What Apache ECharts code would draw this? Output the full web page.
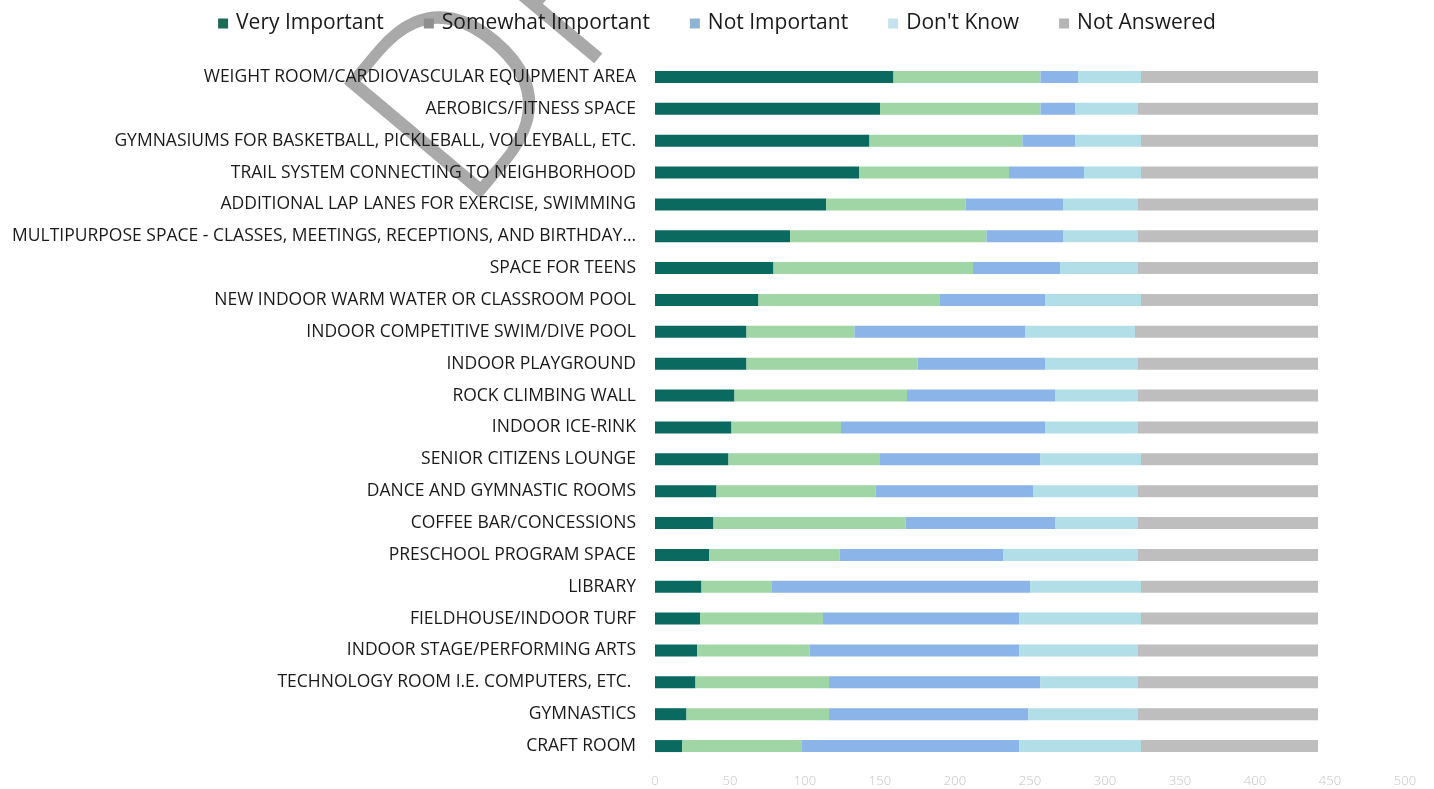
<!DOCTYPE html>
<html>
<head>
<meta charset="utf-8">
<title>Facility priorities</title>
<script src="https://cdn.jsdelivr.net/npm/echarts@6/dist/echarts.min.js"></script>
<style>
  html, body { margin: 0; padding: 0; background: #fff; }
  #chart { width: 1434px; height: 789px; }
</style>
</head>
<body>
<div id="chart"></div>
<script>
// categories, top to bottom
const categories = [
  'WEIGHT ROOM/CARDIOVASCULAR EQUIPMENT AREA',
  'AEROBICS/FITNESS SPACE',
  'GYMNASIUMS FOR BASKETBALL, PICKLEBALL, VOLLEYBALL, ETC.',
  'TRAIL SYSTEM CONNECTING TO NEIGHBORHOOD',
  'ADDITIONAL LAP LANES FOR EXERCISE, SWIMMING',
  'MULTIPURPOSE SPACE - CLASSES, MEETINGS, RECEPTIONS, AND BIRTHDAY…',
  'SPACE FOR TEENS',
  'NEW INDOOR WARM WATER OR CLASSROOM POOL',
  'INDOOR COMPETITIVE SWIM/DIVE POOL',
  'INDOOR PLAYGROUND',
  'ROCK CLIMBING WALL',
  'INDOOR ICE-RINK',
  'SENIOR CITIZENS LOUNGE',
  'DANCE AND GYMNASTIC ROOMS',
  'COFFEE BAR/CONCESSIONS',
  'PRESCHOOL PROGRAM SPACE',
  'LIBRARY',
  'FIELDHOUSE/INDOOR TURF',
  'INDOOR STAGE/PERFORMING ARTS',
  'TECHNOLOGY ROOM I.E. COMPUTERS, ETC. ',
  'GYMNASTICS',
  'CRAFT ROOM'
]

const veryImportant     = [159, 150, 143, 136, 114, 90, 79, 69, 61, 61, 53, 51, 49, 41, 39, 36, 31, 30, 28, 27, 21, 18]
const somewhatImportant = [98, 107, 102, 100, 93, 131, 133, 121, 72, 114, 115, 73, 101, 106, 128, 87, 47, 82, 75, 89, 95, 80]
const notImportant      = [25, 23, 35, 50, 65, 51, 58, 70, 114, 85, 99, 136, 107, 105, 100, 109, 172, 131, 140, 141, 133, 145]
const dontKnow          = [42, 42, 44, 38, 50, 50, 52, 64, 73, 62, 55, 62, 67, 70, 55, 90, 74, 81, 79, 65, 73, 81]
const notAnswered       = [118, 120, 118, 118, 120, 120, 120, 118, 122, 120, 120, 120, 118, 120, 120, 120, 118, 118, 120, 120, 120, 118]

const xTicks = { min: 0, max: 500, step: 50 }

const seriesNames = ['Very Important', 'Somewhat Important', 'Not Important', "Don't Know", 'Not Answered']
const seriesData = [veryImportant, somewhatImportant, notImportant, dontKnow, notAnswered]
const barColors = ['#0a6a60', '#a0d5a5', '#8bb4e8', '#b2dfe7', '#bebebe']
// legend swatches in the original do not match the bars
const legendColors = ['#1b6b57', '#8e8e8e', '#8fb4d3', '#c4e3ef', '#b5b5b5']

const FONT = '"Open Sans", "Noto Sans", sans-serif'

const chart = echarts.init(document.getElementById('chart'))

const option = {
  animation: false,
  backgroundColor: '#fff',
  legend: {
    top: 8,
    left: 'center',
    icon: 'rect',
    itemWidth: 10,
    itemHeight: 10,
    itemGap: 40,
    textStyle: { fontFamily: FONT, fontSize: 21, color: '#1a1a1a', padding: [0, 0, 0, 3] },
    data: seriesNames.map((n, i) => ({ name: n, itemStyle: { color: legendColors[i] } }))
  },
  grid: { left: 655, right: 29, top: 61, bottom: 27, outerBoundsMode: 'none' },
  xAxis: {
    type: 'value',
    min: xTicks.min,
    max: xTicks.max,
    interval: xTicks.step,
    axisLine: { show: false },
    axisTick: { show: false },
    splitLine: { show: false },
    axisLabel: { color: '#c4c4c4', fontFamily: FONT, fontWeight: 300, fontSize: 13, margin: 13 }
  },
  yAxis: {
    type: 'category',
    inverse: true,
    data: categories,
    axisLine: { show: false },
    axisTick: { show: false },
    axisLabel: { color: '#1a1a1a', fontFamily: FONT, fontSize: 17.5, margin: 19 }
  },
  graphic: [
    {
      // DRAFT watermark
      type: 'text',
      x: 410,
      y: 172,
      rotation: 50 * Math.PI / 180,
      z: -10,
      silent: true,
      style: {
        text: 'DRAFT',
        fontFamily: FONT,
        fontWeight: 300,
        fontSize: 250,
        fill: '#a9a9a9',
        textAlign: 'left',
        textVerticalAlign: 'middle',
        align: 'left',
        verticalAlign: 'middle'
      }
    }
  ],
  series: seriesNames.map((n, i) => ({
    name: n,
    type: 'bar',
    stack: 'total',
    barWidth: 12,
    itemStyle: { color: barColors[i] },
    data: seriesData[i]
  }))
}

chart.setOption(option)
window.addEventListener('resize', () => chart.resize())
</script>
</body>
</html>
